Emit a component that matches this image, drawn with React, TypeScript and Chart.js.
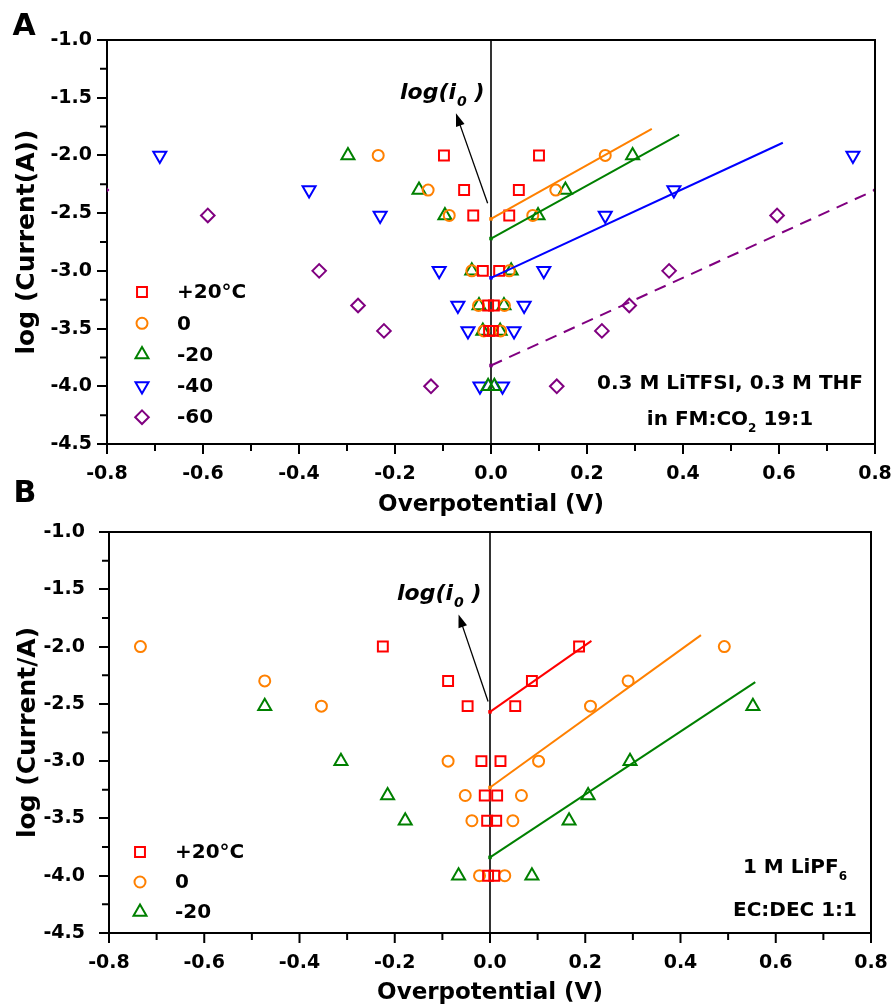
import React, { useEffect, useRef } from 'react';
import { Chart, registerables } from 'chart.js';

Chart.register(...registerables);

const FONT = '"DejaVu Sans", "Liberation Sans", sans-serif';

// ---------- axis ticks ----------
const xTicks = [-0.8, -0.6, -0.4, -0.2, 0.0, 0.2, 0.4, 0.6, 0.8];
const xMinorTicks = [-0.7, -0.5, -0.3, -0.1, 0.1, 0.3, 0.5, 0.7];
const yTicks = [-1.0, -1.5, -2.0, -2.5, -3.0, -3.5, -4.0, -4.5];
const yMinorTicks = [-1.25, -1.75, -2.25, -2.75, -3.25, -3.75, -4.25];

// ---------- Panel A: 0.3 M LiTFSI, 0.3 M THF in FM:CO2 19:1 ----------
const a20x = [-0.098, -0.056, -0.037, -0.017, -0.006, -0.004, 0.004, 0.006, 0.017, 0.038, 0.058, 0.1];
const a20y = [-2.0, -2.3, -2.52, -3.0, -3.3, -3.52, -3.52, -3.3, -3.0, -2.52, -2.3, -2.0];
const a0x = [-0.235, -0.131, -0.087, -0.04, -0.026, -0.015, 0.02, 0.028, 0.038, 0.087, 0.135, 0.238];
const a0y = [-2.0, -2.3, -2.52, -3.0, -3.3, -3.52, -3.52, -3.3, -3.0, -2.52, -2.3, -2.0];
const aM20x = [-0.298, -0.15, -0.096, -0.04, -0.025, -0.017, -0.006, 0.007, 0.019, 0.027, 0.042, 0.098, 0.155, 0.295];
const aM20y = [-2.0, -2.3, -2.52, -3.0, -3.3, -3.52, -4.0, -4.0, -3.52, -3.3, -3.0, -2.52, -2.3, -2.0];
const aM40x = [-0.69, -0.379, -0.231, -0.108, -0.069, -0.048, -0.023, 0.024, 0.048, 0.069, 0.11, 0.238, 0.381, 0.754];
const aM40y = [-2.0, -2.3, -2.52, -3.0, -3.3, -3.52, -4.0, -4.0, -3.52, -3.3, -3.0, -2.52, -2.3, -2.0];
const aM60x = [-0.812, -0.59, -0.358, -0.277, -0.223, -0.125, 0.137, 0.231, 0.288, 0.371, 0.596, 0.812];
const aM60y = [-2.3, -2.52, -3.0, -3.3, -3.52, -4.0, -4.0, -3.52, -3.3, -3.0, -2.52, -2.3];

const aFit0x = [0, 0.335];
const aFit0y = [-2.55, -1.77];
const aFitM20x = [0, 0.392];
const aFitM20y = [-2.72, -1.82];
const aFitM40x = [0, 0.608];
const aFitM40y = [-3.06, -1.89];
const aFitM60x = [0, 0.8];
const aFitM60y = [-3.82, -2.3];

// ---------- Panel B: 1 M LiPF6 EC:DEC 1:1 ----------
const b20x = [-0.225, -0.088, -0.047, -0.018, -0.011, -0.006, -0.004, 0.009, 0.013, 0.015, 0.022, 0.053, 0.088, 0.187];
const b20y = [-2.0, -2.3, -2.52, -3.0, -3.3, -3.52, -4.0, -4.0, -3.52, -3.3, -3.0, -2.52, -2.3, -2.0];
const b0x = [-0.734, -0.473, -0.354, -0.088, -0.052, -0.038, -0.022, 0.031, 0.048, 0.066, 0.102, 0.211, 0.29, 0.492];
const b0y = [-2.0, -2.3, -2.52, -3.0, -3.3, -3.52, -4.0, -4.0, -3.52, -3.3, -3.0, -2.52, -2.3, -2.0];
const bM20x = [-0.473, -0.313, -0.215, -0.178, -0.066, 0.088, 0.166, 0.206, 0.294, 0.552];
const bM20y = [-2.52, -3.0, -3.3, -3.52, -4.0, -4.0, -3.52, -3.3, -3.0, -2.52];

const bFit20x = [0, 0.213];
const bFit20y = [-2.57, -1.95];
const bFit0x = [0, 0.443];
const bFit0y = [-3.23, -1.9];
const bFitM20x = [0, 0.557];
const bFitM20y = [-3.84, -2.31];

// arrows to log(i0) labels: [x1, y1, x2, y2] in data units
const aArrow = [-0.007, -2.415, -0.073, -1.635];
const bArrow = [-0.004, -2.48, -0.066, -1.72];

const RED = '#FF0000';
const ORANGE = '#FF8000';
const GREEN = '#008000';
const BLUE = '#0000FF';
const PURPLE = '#800080';

type Series = { label: string; color: string; style: string; rotation: number; radius: number; xs: number[]; ys: number[] };
type Fit = { color: string; xs: number[]; ys: number[]; dash: number[] };

const seriesA: Series[] = [
  { label: '+20°C', color: RED, style: 'rect', rotation: 0, radius: 7, xs: a20x, ys: a20y },
  { label: '0', color: ORANGE, style: 'circle', rotation: 0, radius: 5.5, xs: a0x, ys: a0y },
  { label: '-20', color: GREEN, style: 'triangle', rotation: 0, radius: 7.5, xs: aM20x, ys: aM20y },
  { label: '-40', color: BLUE, style: 'triangle', rotation: 180, radius: 7.5, xs: aM40x, ys: aM40y },
  { label: '-60', color: PURPLE, style: 'rectRot', rotation: 0, radius: 6.8, xs: aM60x, ys: aM60y },
];
const fitsA: Fit[] = [
  { color: ORANGE, xs: aFit0x, ys: aFit0y, dash: [] },
  { color: GREEN, xs: aFitM20x, ys: aFitM20y, dash: [] },
  { color: BLUE, xs: aFitM40x, ys: aFitM40y, dash: [] },
  { color: PURPLE, xs: aFitM60x, ys: aFitM60y, dash: [12, 8] },
];
const seriesB: Series[] = [
  { label: '+20°C', color: RED, style: 'rect', rotation: 0, radius: 7, xs: b20x, ys: b20y },
  { label: '0', color: ORANGE, style: 'circle', rotation: 0, radius: 5.5, xs: b0x, ys: b0y },
  { label: '-20', color: GREEN, style: 'triangle', rotation: 0, radius: 7.5, xs: bM20x, ys: bM20y },
];
const fitsB: Fit[] = [
  { color: RED, xs: bFit20x, ys: bFit20y, dash: [] },
  { color: ORANGE, xs: bFit0x, ys: bFit0y, dash: [] },
  { color: GREEN, xs: bFitM20x, ys: bFitM20y, dash: [] },
];

type TextPart = { t: string; sub?: boolean };
type Note = { parts: TextPart[]; cx: number; y: number };

type Panel = {
  W: number;
  H: number;
  area: { left: number; top: number; right: number; bottom: number };
  yTickPad: number;
  series: Series[];
  fits: Fit[];
  arrow: number[];
  logX: number;
  logY: number;
  yTitle: string;
  yTitleX: number;
  xTitleY: number;
  letters: { t: string; x: number; y: number }[];
  legend: { mx: number; tx: number; y0: number; dy: number };
  notes: Note[];
};

const panelA: Panel = {
  W: 893,
  H: 520,
  area: { left: 107, top: 40, right: 875, bottom: 444 },
  yTickPad: 5,
  series: seriesA,
  fits: fitsA,
  arrow: aArrow,
  logX: 400,
  logY: 99,
  yTitle: 'log (Current(A))',
  yTitleX: 27,
  xTitleY: 505,
  letters: [
    { t: 'A', x: 24, y: 27 },
    { t: 'B', x: 25, y: 494 },
  ],
  legend: { mx: 142, tx: 177, y0: 292, dy: 31.3 },
  notes: [
    { parts: [{ t: '0.3 M LiTFSI, 0.3 M THF' }], cx: 730, y: 384 },
    { parts: [{ t: 'in FM:CO' }, { t: '2', sub: true }, { t: ' 19:1' }], cx: 730, y: 420 },
  ],
};

const panelB: Panel = {
  W: 893,
  H: 538,
  area: { left: 109, top: 62, right: 871, bottom: 463 },
  yTickPad: 14,
  series: seriesB,
  fits: fitsB,
  arrow: bArrow,
  logX: 397,
  logY: 130,
  yTitle: 'log (Current/A)',
  yTitleX: 28,
  xTitleY: 523,
  letters: [],
  legend: { mx: 140, tx: 175, y0: 382, dy: 30 },
  notes: [
    { parts: [{ t: '1 M LiPF' }, { t: '6', sub: true }], cx: 795, y: 398 },
    { parts: [{ t: 'EC:DEC 1:1' }], cx: 795, y: 441 },
  ],
};

function drawMarker(ctx: CanvasRenderingContext2D, s: Series, x: number, y: number) {
  const r = s.radius;
  ctx.save();
  ctx.strokeStyle = s.color;
  ctx.lineWidth = 2;
  ctx.beginPath();
  if (s.style === 'rect') {
    const h = r * Math.SQRT1_2;
    ctx.rect(x - h, y - h, 2 * h, 2 * h);
  } else if (s.style === 'circle') {
    ctx.arc(x, y, r, 0, Math.PI * 2);
  } else if (s.style === 'triangle') {
    let rad = (s.rotation * Math.PI) / 180;
    ctx.moveTo(x + Math.sin(rad) * r, y - Math.cos(rad) * r);
    rad += (2 * Math.PI) / 3;
    ctx.lineTo(x + Math.sin(rad) * r, y - Math.cos(rad) * r);
    rad += (2 * Math.PI) / 3;
    ctx.lineTo(x + Math.sin(rad) * r, y - Math.cos(rad) * r);
    ctx.closePath();
  } else {
    ctx.moveTo(x, y - r);
    ctx.lineTo(x + r, y);
    ctx.lineTo(x, y + r);
    ctx.lineTo(x - r, y);
    ctx.closePath();
  }
  ctx.stroke();
  ctx.restore();
}

function drawParts(ctx: CanvasRenderingContext2D, parts: TextPart[], cx: number, y: number, size: number) {
  const main = `bold ${size}px ${FONT}`;
  const sub = `bold ${Math.round(size * 0.62)}px ${FONT}`;
  let total = 0;
  const widths = parts.map((p) => {
    ctx.font = p.sub ? sub : main;
    const w = ctx.measureText(p.t).width;
    total += w;
    return w;
  });
  let x = cx - total / 2;
  ctx.textAlign = 'left';
  ctx.textBaseline = 'middle';
  parts.forEach((p, i) => {
    ctx.font = p.sub ? sub : main;
    ctx.fillText(p.t, x, p.sub ? y + size * 0.42 : y);
    x += widths[i];
  });
}

function makeOverlay(p: Panel) {
  return {
    id: 'overlay',
    beforeDatasetsDraw(chart: any) {
      const { ctx, chartArea, scales } = chart;
      const x0 = scales.x.getPixelForValue(0);
      ctx.save();
      ctx.strokeStyle = '#000';
      ctx.lineWidth = 1.6;
      ctx.beginPath();
      ctx.moveTo(x0, chartArea.top);
      ctx.lineTo(x0, chartArea.bottom);
      ctx.stroke();
      ctx.restore();
    },
    afterDraw(chart: any) {
      const { ctx, chartArea, scales } = chart;
      const xs = scales.x;
      const ys = scales.y;
      ctx.save();
      ctx.strokeStyle = '#000';
      ctx.fillStyle = '#000';
      // top and right frame
      ctx.lineWidth = 2;
      ctx.beginPath();
      ctx.moveTo(chartArea.left - 1, chartArea.top);
      ctx.lineTo(chartArea.right, chartArea.top);
      ctx.lineTo(chartArea.right, chartArea.bottom + 1);
      ctx.stroke();
      // x major + minor ticks, y minor ticks
      ctx.beginPath();
      xTicks.forEach((v) => {
        const px = xs.getPixelForValue(v);
        ctx.moveTo(px, chartArea.bottom);
        ctx.lineTo(px, chartArea.bottom + 10);
      });
      xMinorTicks.forEach((v) => {
        const px = xs.getPixelForValue(v);
        ctx.moveTo(px, chartArea.bottom);
        ctx.lineTo(px, chartArea.bottom + 7);
      });
      yMinorTicks.forEach((v) => {
        const py = ys.getPixelForValue(v);
        ctx.moveTo(chartArea.left, py);
        ctx.lineTo(chartArea.left - 7, py);
      });
      ctx.stroke();

      // arrow
      const ax1 = xs.getPixelForValue(p.arrow[0]);
      const ay1 = ys.getPixelForValue(p.arrow[1]);
      const ax2 = xs.getPixelForValue(p.arrow[2]);
      const ay2 = ys.getPixelForValue(p.arrow[3]);
      const ang = Math.atan2(ay2 - ay1, ax2 - ax1);
      const hl = 13;
      const hw = 4.5;
      ctx.lineWidth = 1.3;
      ctx.beginPath();
      ctx.moveTo(ax1, ay1);
      ctx.lineTo(ax2 - Math.cos(ang) * hl * 0.8, ay2 - Math.sin(ang) * hl * 0.8);
      ctx.stroke();
      ctx.beginPath();
      ctx.moveTo(ax2, ay2);
      ctx.lineTo(ax2 - Math.cos(ang) * hl - Math.sin(ang) * hw, ay2 - Math.sin(ang) * hl + Math.cos(ang) * hw);
      ctx.lineTo(ax2 - Math.cos(ang) * hl + Math.sin(ang) * hw, ay2 - Math.sin(ang) * hl - Math.cos(ang) * hw);
      ctx.closePath();
      ctx.fill();

      // log(i0) label
      ctx.textAlign = 'left';
      ctx.textBaseline = 'alphabetic';
      ctx.font = `italic bold 22px ${FONT}`;
      ctx.fillText('log(i', p.logX, p.logY);
      let lx = p.logX + ctx.measureText('log(i').width + 1;
      ctx.font = `italic bold 14px ${FONT}`;
      ctx.fillText('0', lx, p.logY + 7);
      lx += ctx.measureText('0').width;
      ctx.font = `italic bold 22px ${FONT}`;
      ctx.fillText(' )', lx, p.logY);

      // legend
      p.series.forEach((s, i) => {
        const y = p.legend.y0 + i * p.legend.dy;
        drawMarker(ctx, s, p.legend.mx, y);
        ctx.fillStyle = '#000';
        ctx.font = `bold 20px ${FONT}`;
        ctx.textAlign = 'left';
        ctx.textBaseline = 'middle';
        ctx.fillText(s.label, p.legend.tx, y + 1);
      });

      // notes
      ctx.fillStyle = '#000';
      p.notes.forEach((n) => drawParts(ctx, n.parts, n.cx, n.y, 20));

      // axis titles
      ctx.font = `bold 23px ${FONT}`;
      ctx.textAlign = 'center';
      ctx.textBaseline = 'middle';
      ctx.fillText('Overpotential (V)', (chartArea.left + chartArea.right) / 2, p.xTitleY);
      ctx.save();
      ctx.font = `bold 25px ${FONT}`;
      ctx.translate(p.yTitleX, (chartArea.top + chartArea.bottom) / 2);
      ctx.rotate(-Math.PI / 2);
      ctx.fillText(p.yTitle, 0, 0);
      ctx.restore();

      // panel letters
      ctx.font = `bold 30px ${FONT}`;
      ctx.textAlign = 'center';
      ctx.textBaseline = 'middle';
      p.letters.forEach((l) => ctx.fillText(l.t, l.x, l.y));
      ctx.restore();
    },
  };
}

function buildChart(canvas: HTMLCanvasElement, p: Panel) {
  const datasets: any[] = [];
  p.fits.forEach((f) => {
    datasets.push({
      label: 'fit',
      data: f.xs.map((x, i) => ({ x, y: f.ys[i] })),
      showLine: true,
      borderColor: f.color,
      borderWidth: 2,
      borderDash: f.dash,
      pointRadius: [2.5, 0],
      pointStyle: 'rect',
      pointBackgroundColor: f.color,
      pointBorderColor: f.color,
      pointBorderWidth: 0,
      fill: false,
      clip: 0,
    });
  });
  p.series.forEach((s) => {
    datasets.push({
      label: s.label,
      data: s.xs.map((x, i) => ({ x, y: s.ys[i] })),
      showLine: false,
      pointStyle: s.style,
      pointRotation: s.rotation,
      pointRadius: s.radius,
      pointBorderWidth: 2,
      pointBorderColor: s.color,
      pointBackgroundColor: 'rgba(0,0,0,0)',
      borderColor: s.color,
      backgroundColor: 'rgba(0,0,0,0)',
      clip: 0,
    });
  });

  const tickFont = { family: FONT, size: 19, weight: 'bold' as const };
  return new Chart(canvas, {
    type: 'scatter',
    data: { datasets },
    options: {
      animation: false,
      responsive: false,
      devicePixelRatio: 1,
      events: [],
      layout: { autoPadding: false, padding: { left: 0, top: p.area.top, right: p.W - p.area.right, bottom: 0 } },
      plugins: { legend: { display: false }, tooltip: { enabled: false } },
      scales: {
        x: {
          type: 'linear',
          min: -0.8,
          max: 0.8,
          afterFit: (scale: any) => {
            scale.height = p.H - p.area.bottom;
          },
          afterBuildTicks: (scale: any) => {
            scale.ticks = xTicks.map((v) => ({ value: v }));
          },
          ticks: {
            callback: (v: any) => Number(v).toFixed(1),
            font: tickFont,
            color: '#000',
            padding: 0,
            maxRotation: 0,
            autoSkip: false,
          },
          grid: { display: true, drawOnChartArea: false, drawTicks: true, tickLength: 19, lineWidth: 0, color: 'rgba(0,0,0,0)' },
          border: { display: true, color: '#000', width: 2 },
          title: { display: false },
        },
        y: {
          type: 'linear',
          min: -4.5,
          max: -1.0,
          afterFit: (scale: any) => {
            scale.width = p.area.left;
          },
          afterBuildTicks: (scale: any) => {
            scale.ticks = yTicks.map((v) => ({ value: v }));
          },
          ticks: {
            callback: (v: any) => Number(v).toFixed(1),
            font: tickFont,
            color: '#000',
            padding: p.yTickPad,
            autoSkip: false,
          },
          grid: { display: true, drawOnChartArea: false, drawTicks: true, tickLength: 10, lineWidth: 2, color: '#000' },
          border: { display: true, color: '#000', width: 2 },
          title: { display: false },
        },
      },
    },
    plugins: [makeOverlay(p)],
  } as any);
}

export default function App() {
  const refA = useRef<HTMLCanvasElement | null>(null);
  const refB = useRef<HTMLCanvasElement | null>(null);

  useEffect(() => {
    const cA = buildChart(refA.current as HTMLCanvasElement, panelA);
    const cB = buildChart(refB.current as HTMLCanvasElement, panelB);
    return () => {
      cA.destroy();
      cB.destroy();
    };
  }, []);

  return (
    <div style={{ position: 'fixed', left: 0, top: 0, width: 893, height: 1008, background: '#fff', overflow: 'hidden' }}>
      <canvas ref={refA} width={893} height={520} style={{ position: 'absolute', left: 0, top: 0 }} />
      <canvas ref={refB} width={893} height={538} style={{ position: 'absolute', left: 0, top: 470 }} />
    </div>
  );
}
